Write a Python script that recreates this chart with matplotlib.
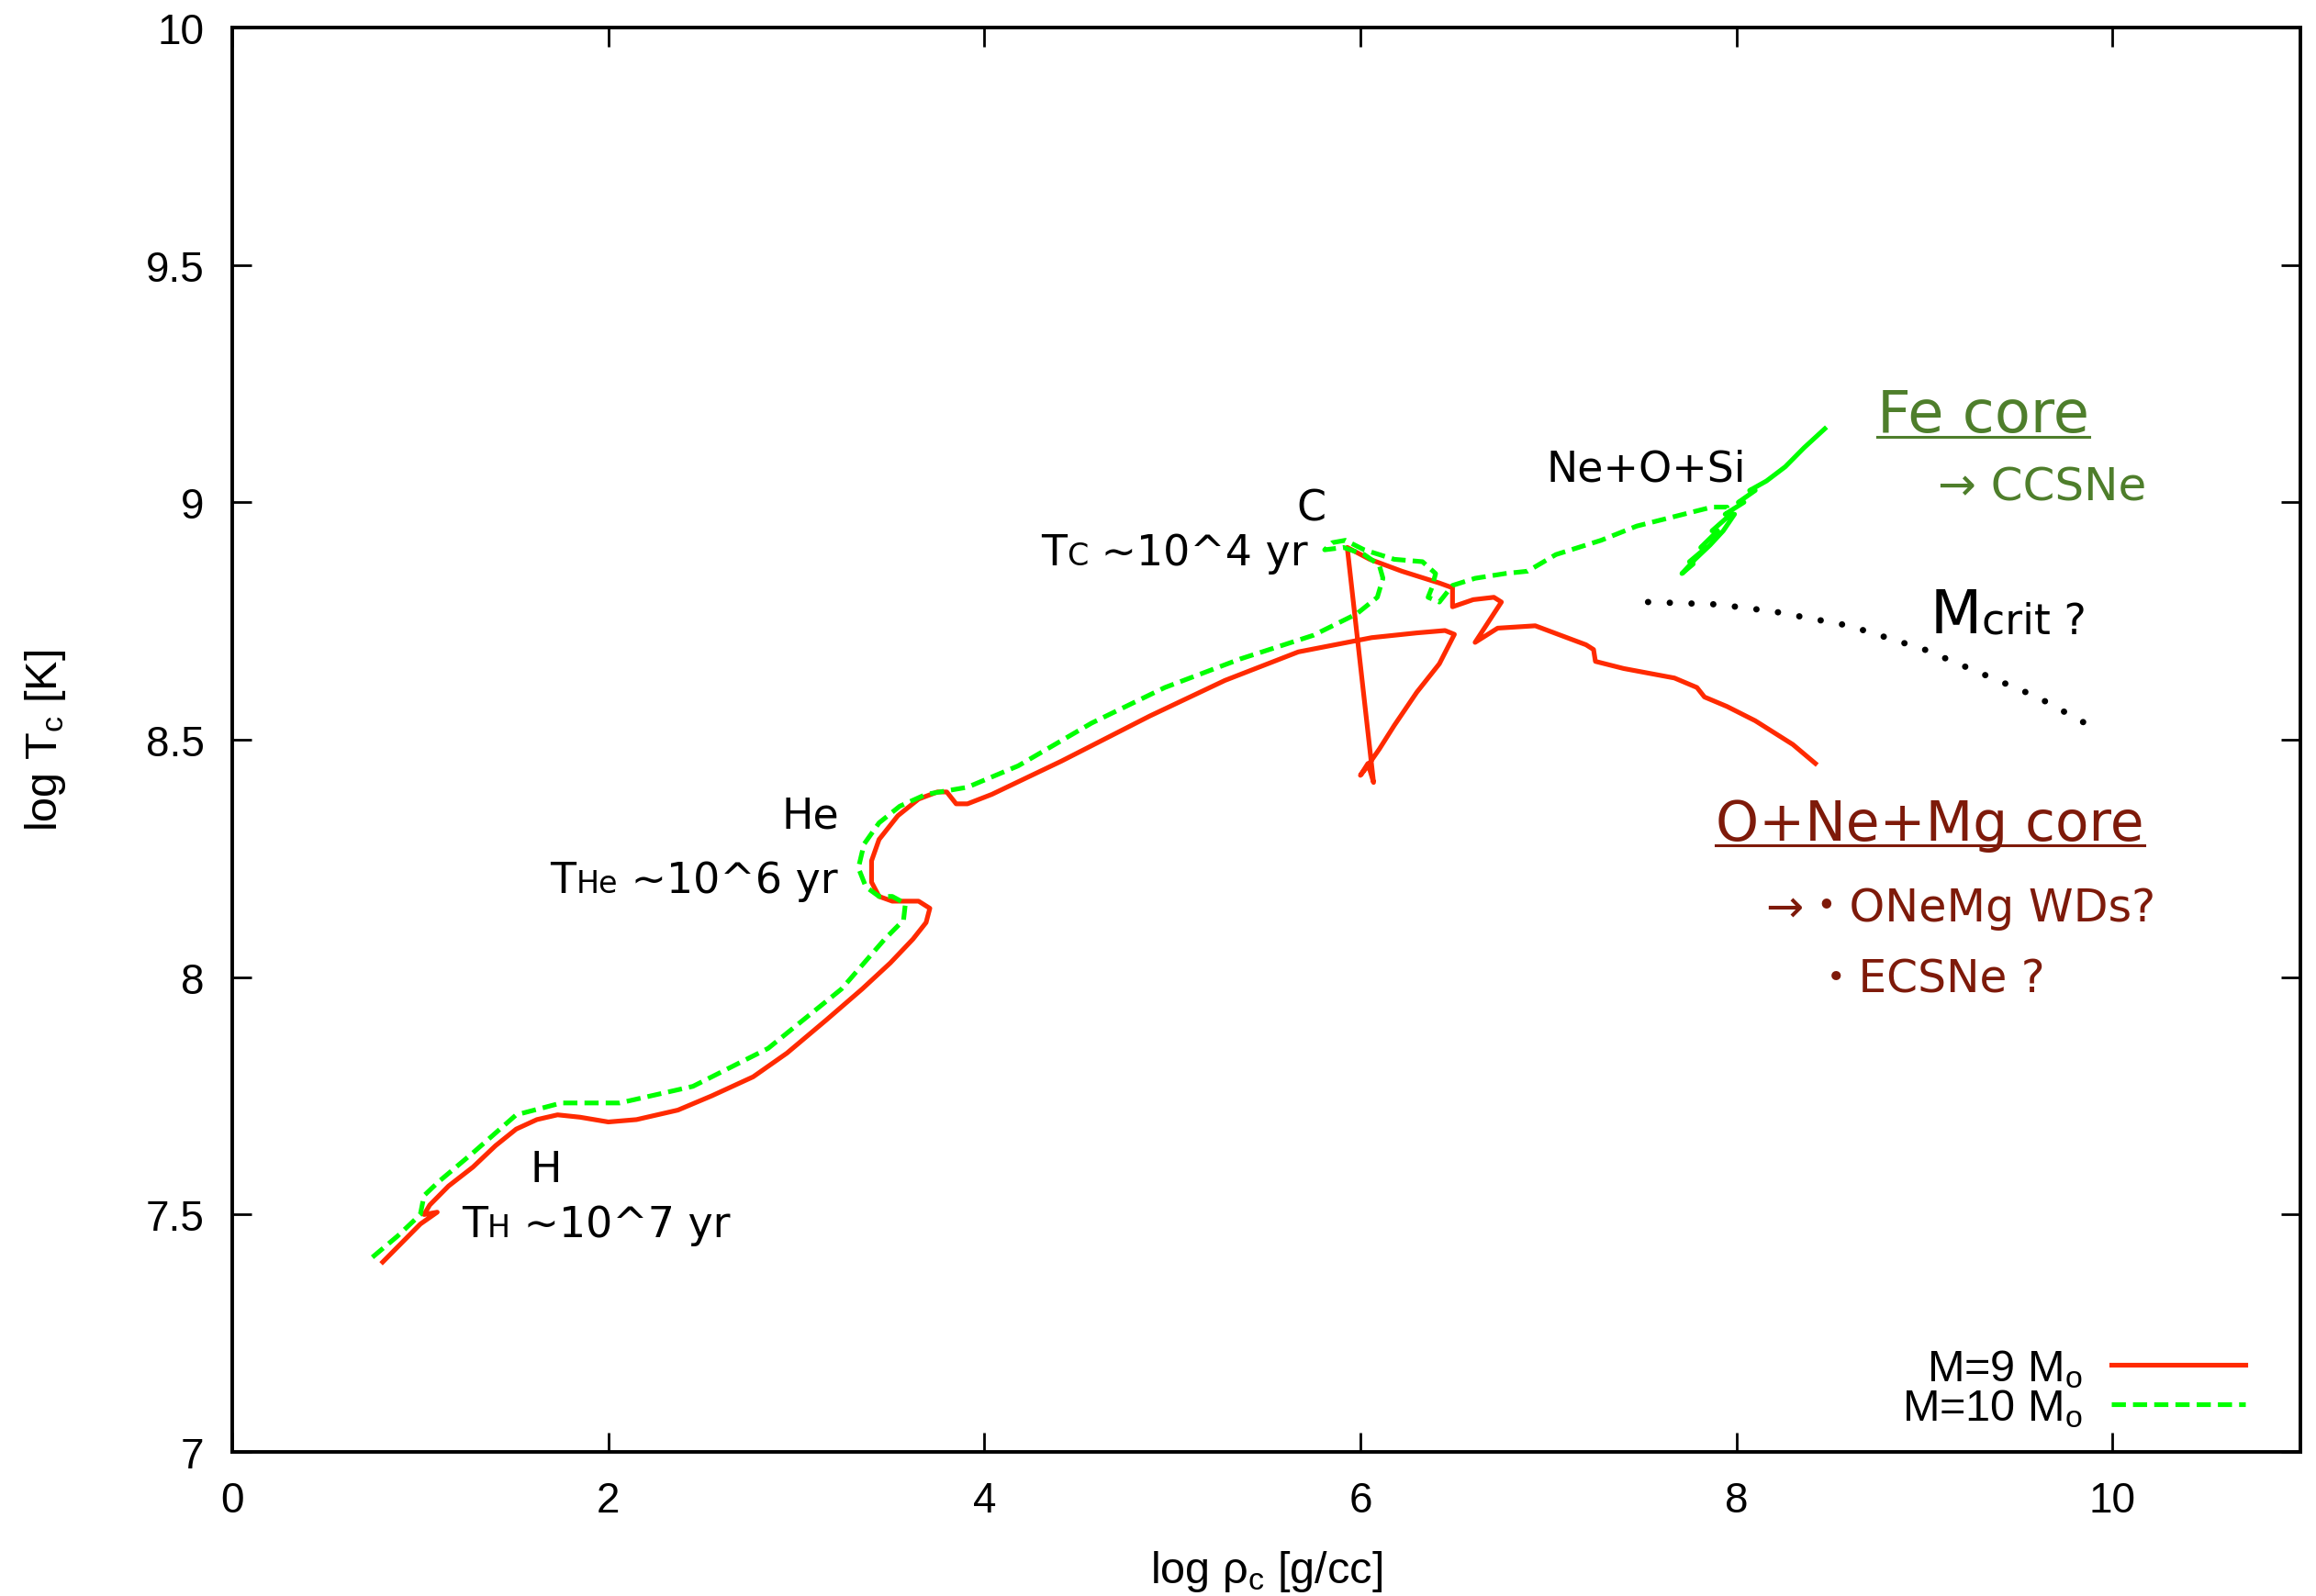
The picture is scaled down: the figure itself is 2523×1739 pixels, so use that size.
import matplotlib
matplotlib.use('Agg')
import matplotlib.pyplot as plt
from matplotlib.transforms import offset_copy
from matplotlib.lines import Line2D

plt.rcParams['font.family'] = ['Liberation Sans', 'DejaVu Sans']
plt.rcParams['mathtext.default'] = 'regular'

# M = 9 Msun track (log rho_c, log T_c)
m9_x = [0.80, 0.90, 1.00, 1.09, 1.02, 1.05, 1.15, 1.28, 1.40, 1.51, 1.62, 1.73, 1.85,
        2.00, 2.15, 2.37, 2.55, 2.77, 2.95, 3.16, 3.35, 3.50, 3.62, 3.69, 3.71, 3.65,
        3.51, 3.44, 3.40, 3.40, 3.44, 3.54, 3.65, 3.75, 3.80, 3.85, 3.91, 4.04, 4.41,
        4.88, 5.28, 5.67, 6.06, 6.30, 6.45, 6.50, 6.42, 6.30, 6.18, 6.10, 6.03, 6.00,
        6.04, 6.07, 5.93, 6.05, 6.22, 6.42, 6.49, 6.49, 6.60, 6.71, 6.75, 6.61, 6.73,
        6.93, 7.20, 7.24, 7.25, 7.40, 7.67, 7.79, 7.83, 7.95, 8.10, 8.30, 8.42]
m9_y = [7.40, 7.44, 7.48, 7.505, 7.50, 7.52, 7.56, 7.60, 7.645, 7.68, 7.70, 7.71, 7.705,
        7.695, 7.70, 7.72, 7.75, 7.79, 7.84, 7.91, 7.975, 8.03, 8.08, 8.115, 8.145, 8.16,
        8.16, 8.17, 8.20, 8.245, 8.29, 8.34, 8.375, 8.39, 8.39, 8.365, 8.365, 8.385, 8.455,
        8.55, 8.625, 8.685, 8.715, 8.725, 8.73, 8.722, 8.66, 8.60, 8.53, 8.48, 8.44, 8.425,
        8.45, 8.41, 8.905, 8.88, 8.855, 8.83, 8.82, 8.78, 8.795, 8.80, 8.79, 8.705, 8.735,
        8.74, 8.70, 8.69, 8.665, 8.65, 8.63, 8.61, 8.59, 8.57, 8.54, 8.49, 8.45]

# M = 10 Msun track
m10_x = [0.745, 0.88, 1.00, 1.02, 1.10, 1.28, 1.51, 1.75, 2.06, 2.45, 2.85, 3.24, 3.47,
         3.57, 3.58, 3.51, 3.44, 3.37, 3.33, 3.36, 3.44, 3.55, 3.69, 3.91, 4.18, 4.57,
         4.96, 5.36, 5.75, 5.98, 6.09, 6.12, 6.10, 6.02, 5.91, 5.81, 5.85, 5.92, 6.02,
         6.18, 6.33, 6.40, 6.38, 6.36, 6.42, 6.49, 6.61, 6.77, 6.89, 7.04, 7.28, 7.47,
         7.67, 7.87, 7.95, 7.96]
m10_y = [7.41, 7.455, 7.50, 7.54, 7.57, 7.63, 7.71, 7.735, 7.735, 7.77, 7.85, 7.975, 8.08,
         8.12, 8.155, 8.17, 8.17, 8.19, 8.23, 8.28, 8.325, 8.36, 8.385, 8.40, 8.445, 8.535,
         8.61, 8.67, 8.72, 8.765, 8.80, 8.84, 8.868, 8.89, 8.905, 8.90, 8.915, 8.92, 8.90,
         8.88, 8.875, 8.85, 8.82, 8.80, 8.79, 8.825, 8.84, 8.85, 8.855, 8.89, 8.92, 8.95,
         8.97, 8.99, 8.99, 8.97]
# M = 10 Msun, Si burning part (dense, drawn solid)
m10_si_x = [7.96, 7.99, 7.93, 7.86, 7.78, 7.71, 7.77, 7.75, 7.84, 7.81, 7.90, 7.87, 7.97,
            7.94, 8.04, 8.01, 8.10, 8.07, 8.16, 8.26, 8.36, 8.47]
m10_si_y = [8.975, 8.975, 8.94, 8.91, 8.88, 8.85, 8.87, 8.875, 8.905, 8.905, 8.94, 8.94,
            8.975, 8.975, 9.00, 9.00, 9.025, 9.025, 9.045, 9.075, 9.115, 9.155]

# critical-mass boundary
mcrit_x = [7.53, 7.90, 8.20, 8.60, 9.00, 9.30, 9.60, 9.90]
mcrit_y = [8.79, 8.785, 8.77, 8.74, 8.69, 8.64, 8.59, 8.525]

x_ticks = [0, 2, 4, 6, 8, 10]
x_tick_labels = ['0', '2', '4', '6', '8', '10']
y_ticks = [7, 7.5, 8, 8.5, 9, 9.5, 10]
y_tick_labels = ['7', '7.5', '8', '8.5', '9', '9.5', '10']
series_labels = ['M=9 M$_o$', 'M=10 M$_o$']

RED = '#ff2a00'
GREEN = '#00ff00'
FE_GREEN = '#4e7e2b'
ONE_RED = '#7e1a0a'
ANN = ['DejaVu Sans', 'Noto Sans CJK JP']

fig = plt.figure(figsize=(25.23, 17.40), dpi=100)
ax = fig.add_axes([0.1003, 0.0902, 0.8930, 0.8920])

ax.plot(m9_x, m9_y, color=RED, lw=3.7, label=series_labels[0])
ax.plot(m10_x, m10_y, color=GREEN, lw=3.7, ls=(0, (3, 1.5)), label=series_labels[1])
ax.plot(m10_si_x, m10_si_y, color=GREEN, lw=3.7)
ax.plot(mcrit_x, mcrit_y, color='black', lw=5, ls=(0, (0.01, 3.4)), dash_capstyle='round')

ax.set_xlim(0, 11)
ax.set_ylim(7, 10)
ax.set_xticks(x_ticks)
ax.set_xticklabels(x_tick_labels)
ax.set_yticks(y_ticks)
ax.set_yticklabels(y_tick_labels)
ax.tick_params(direction='in', length=15, width=2, top=True, right=True,
               labelsize=33, pad=22)
for s in ax.spines.values():
    s.set_linewidth(2.8)
ax.set_xlabel(r'log ρ$_c$ [g/cc]', fontsize=35, labelpad=22)
ax.set_ylabel(r'log T$_c$ [K]', fontsize=35, labelpad=61)

ax.legend(loc='lower right', bbox_to_anchor=(0.9734, 0.016), markerfirst=False,
          frameon=False, fontsize=35, handlelength=3.0, handletextpad=0.65,
          labelspacing=-0.05, borderaxespad=0, borderpad=0)


def mixed_text(x, y, parts, ha='left', color='black'):
    # pieces of different size on one baseline
    renderer = fig.canvas.get_renderer()
    widths = []
    for s, size in parts:
        t = ax.text(0, 0, s, fontsize=size, family=ANN)
        widths.append(t.get_window_extent(renderer).width)
        t.remove()
    start = 0 if ha == 'left' else -sum(widths)
    for (s, size), w in zip(parts, widths):
        tr = offset_copy(ax.transData, fig=fig, x=start, y=0, units='dots')
        ax.text(x, y, s, fontsize=size, family=ANN, color=color, transform=tr,
                ha='left', va='baseline')
        start += w


def underline(t, y, color, dy=6, lw=2.2):
    fig.canvas.draw()
    bb = t.get_window_extent()
    yb = ax.transData.transform((0, y))[1] - dy
    inv = fig.transFigure.inverted()
    (x0, yy), (x1, _) = inv.transform([(bb.x0, yb), (bb.x1, yb)])
    fig.add_artist(Line2D([x0, x1], [yy, yy], color=color, lw=lw))


ax.text(5.74, 8.962, 'C', fontsize=33, family=ANN, ha='center', va='baseline')
mixed_text(5.72, 8.87, [('T', 33), ('C', 24), (' ~10^4 yr', 33)], ha='right')
ax.text(7.52, 9.046, 'Ne+O+Si', fontsize=33, family=ANN, ha='center', va='baseline')
ax.text(3.23, 8.315, 'He', fontsize=33, family=ANN, ha='right', va='baseline')
mixed_text(3.22, 8.18, [('T', 33), ('He', 24), (' ~10^6 yr', 33)], ha='right')
ax.text(1.67, 7.57, 'H', fontsize=33, family=ANN, ha='center', va='baseline')
mixed_text(1.22, 7.455, [('T', 33), ('H', 24), (' ~10^7 yr', 33)], ha='left')
mixed_text(9.03, 8.726, [('M', 47), ('crit ?', 33)], ha='left')

fe = ax.text(8.75, 9.15, 'Fe core', fontsize=46, family=ANN, color=FE_GREEN, va='baseline')
ax.text(9.07, 9.006, '→ CCSNe', fontsize=36, family=ANN, color=FE_GREEN, va='baseline')
one = ax.text(7.89, 8.29, 'O+Ne+Mg core', fontsize=43, family=ANN, color=ONE_RED, va='baseline')
ax.text(8.16, 8.12, '→・ONeMg WDs?', fontsize=35.5, family=ANN, color=ONE_RED, va='baseline')
ax.text(8.41, 7.97, '・ECSNe ?', fontsize=35, family=ANN, color=ONE_RED, va='baseline')

underline(fe, 9.15, FE_GREEN)
underline(one, 8.29, ONE_RED)

fig.savefig('out.png', dpi=100)
